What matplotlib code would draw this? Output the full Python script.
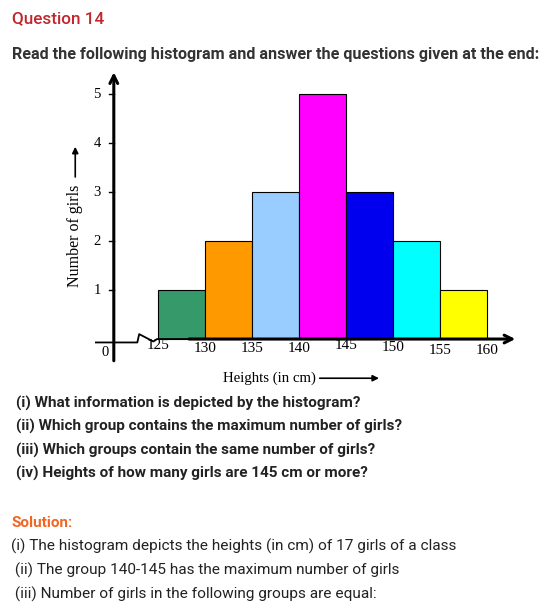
import numpy as np
import matplotlib.pyplot as plt

# histogram data
edges = [125, 130, 135, 140, 145, 150, 155, 160]
counts = [1, 2, 3, 5, 3, 2, 1]
bar_colors = ['#35996a', '#ff9900', '#99ccff', '#ff00ff', '#0000ee', '#00ffff', '#ffff00']
yticks = [1, 2, 3, 4, 5]

question_lines = [
    "(i) What information is depicted by the histogram?",
    "(ii) Which group contains the maximum number of girls?",
    "(iii) Which groups contain the same number of girls?",
    "(iv) Heights of how many girls are 145 cm or more?",
]
answer_lines = [
    "(i) The histogram depicts the heights (in cm) of 17 girls of a class",
    " (ii) The group 140-145 has the maximum number of girls",
    " (iii) Number of girls in the following groups are equal:",
]

W, H = 553, 610
fig = plt.figure(figsize=(W / 100, H / 100), dpi=100)
fig.patch.set_facecolor('white')

def px(x, y):
    return x / W, 1 - y / H

sans = 'Roboto'
serif = 'Liberation Serif'

# header text
fig.text(*px(12, 19), "Question 14", color='#c1272d', fontsize=12.3,
         family=sans, fontweight='medium', va='center')
fig.text(*px(12, 55), "Read the following histogram and answer the questions given at the end:",
         color='#333333', fontsize=11.6, family=sans, fontweight='bold', va='center')

# chart axes: map data to pixel region
ax = fig.add_axes([95 / W, 1 - 365 / H, 425 / W, 295 / H])
ax.set_xlim(118.3, 163.5)
ax.set_ylim(-0.53, 5.49)
ax.axis('off')

widths = np.diff(edges)
ax.bar(edges[:-1], counts, width=widths, align='edge', color=bar_colors,
       edgecolor='black', linewidth=0.8, zorder=2)

x0 = 120.3
# y axis with arrow
ax.annotate('', xy=(x0, 5.5), xytext=(x0, -0.5),
            arrowprops=dict(arrowstyle='->', color='black', lw=2.2, mutation_scale=14),
            annotation_clip=False)
# x axis with arrow
ax.annotate('', xy=(163.3, 0), xytext=(128.0, 0),
            arrowprops=dict(arrowstyle='->', color='black', lw=2.2, mutation_scale=14),
            annotation_clip=False)
# left piece of x axis with break zigzag
ax.plot([118.3, 122.8, 123.0, 124.5, 124.9, 128.2],
        [-0.07, -0.07, 0.1, -0.05, 0.0, 0.0], color='black', lw=1.3, zorder=3)

# y ticks
for t in yticks:
    ax.plot([x0 - 0.5, x0], [t, t], color='black', lw=1)
    ax.text(x0 - 1.4, t, str(t), family=serif, fontsize=10.5, ha='right', va='center')
ax.text(119.36, -0.27, '0', family=serif, fontsize=10.5, ha='center', va='center')

# x tick labels
y_off = [-0.14, -0.2, -0.2, -0.2, -0.13, -0.18, -0.24, -0.24]
for e, dy in zip(edges, y_off):
    ax.text(e, dy, str(e), family=serif, fontsize=11, ha='center', va='center')

# axis labels with arrows
ax.text(116.2, 2.1, 'Number of girls', family=serif, fontsize=11.5, rotation=90,
        ha='center', va='center')
ax.annotate('', xy=(116.2, 3.98), xytext=(116.2, 3.25),
            arrowprops=dict(arrowstyle='-|>', color='black', lw=1.2, mutation_scale=9),
            annotation_clip=False)
ax.text(131.9, -0.8, 'Heights (in cm)', family=serif, fontsize=10.7, ha='left', va='center')
ax.annotate('', xy=(148.8, -0.8), xytext=(141.9, -0.8),
            arrowprops=dict(arrowstyle='-|>', color='black', lw=1.2, mutation_scale=9),
            annotation_clip=False)

# questions
for i, line in enumerate(question_lines):
    fig.text(*px(16, 403 + i * 23.5), line, color='#222222', fontsize=11.0,
             family=sans, fontweight='bold', va='center')

fig.text(*px(11, 523), "Solution:", color='#f26522', fontsize=11.0,
         family=sans, fontweight='bold', va='center')
for i, line in enumerate(answer_lines):
    fig.text(*px(11, 546 + i * 24), line, color='#222222', fontsize=11.1,
             family=sans, va='center')

fig.savefig('out.png', dpi=100)
